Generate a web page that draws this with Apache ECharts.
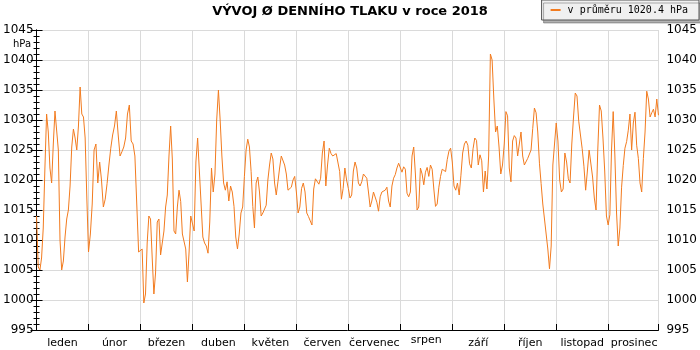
<!DOCTYPE html>
<html>
<head>
<meta charset="utf-8">
<script src="https://cdn.jsdelivr.net/npm/echarts@6/dist/echarts.min.js"></script>
<style>
  html, body { margin: 0; padding: 0; background: #fff; }
  #chart { width: 700px; height: 350px; }
</style>
</head>
<body>
<div id="chart"></div>
<script>
// Průměrný denní tlak vzduchu (hPa) v roce 2018, po měsících
const leden = [1014, 1005.5, 1005, 1007, 1012, 1022, 1031, 1028, 1022, 1019.5, 1026, 1031.5, 1031.5, 1025, 1010, 1005, 1006.5, 1010.5, 1013.5, 1015, 1019, 1025.5, 1028.5, 1027, 1025, 1029, 1035.5, 1031, 1030.5, 1027, 1017];
const unor = [1008, 1011, 1016, 1025, 1026, 1019.5, 1023, 1020, 1015.5, 1016.8, 1019.4, 1022.5, 1025.3, 1027.5, 1029, 1031.5, 1027.5, 1024, 1024.7, 1025.5, 1027, 1031, 1032.5, 1026.5, 1026, 1024, 1016, 1008];
const brezen = [1008, 1008.5, 999.5, 1001, 1009.5, 1014, 1013.5, 1007, 1001, 1004.5, 1013, 1013.5, 1007.5, 1007.5, 1011.5, 1015.5, 1017.5, 1024, 1029, 1023.5, 1011.5, 1011, 1015.5, 1018.3, 1016.4, 1011, 1010.8, 1008.5, 1003, 1008, 1014];
const duben = [1014, 1011.5, 1023, 1027, 1021.5, 1016, 1010.5, 1009.5, 1009, 1007.8, 1013, 1022, 1018, 1021, 1030, 1035, 1030, 1024, 1019.5, 1018.3, 1019.7, 1016.5, 1019, 1018, 1015.6, 1010.5, 1008.5, 1011, 1014.5, 1015.5];
const kveten = [1020.6, 1025, 1026.8, 1025.5, 1021.4, 1015.6, 1012, 1019.5, 1020.5, 1018, 1014, 1014.5, 1014.8, 1015.8, 1020, 1022.5, 1024.5, 1023.5, 1019.5, 1017.5, 1019.7, 1022, 1024, 1024.2, 1022.5, 1021, 1018.3, 1018.6, 1018.8, 1020, 1020.6];
const cerven = [1018, 1014.5, 1015.5, 1018.6, 1019.5, 1018, 1014.5, 1013.9, 1013.2, 1012.5, 1018.5, 1020.2, 1020, 1019.3, 1020.3, 1024.5, 1026.5, 1019, 1022.5, 1025.3, 1024.4, 1024, 1024.2, 1024.4, 1024.5, 1021.4, 1016.8, 1018.6, 1022, 1020];
const cervenec = [1018.6, 1017, 1017.5, 1021.5, 1023, 1022, 1019.5, 1019, 1019.7, 1021, 1020.7, 1020.3, 1018, 1015.5, 1016.5, 1018, 1018.2, 1016.3, 1014.8, 1017.2, 1018, 1017.9, 1018.3, 1018.8, 1016.5, 1015.5, 1019, 1020.3, 1020.9, 1022, 1022.8];
const srpen = [1022.8, 1021.3, 1022.2, 1021.8, 1017.8, 1017.2, 1018, 1024, 1025.5, 1021, 1015, 1015.5, 1022, 1021, 1019.2, 1021.3, 1022.1, 1020.6, 1022.5, 1021.8, 1018.5, 1015.6, 1016, 1018.8, 1020.6, 1021.8, 1021.5, 1021.4, 1023.4, 1024.8, 1025.3];
const zari = [1023, 1019, 1018.3, 1019.5, 1017.5, 1020.8, 1024.5, 1026, 1026.5, 1025.8, 1022.7, 1022, 1025.2, 1027, 1026.6, 1022.5, 1024.2, 1023.2, 1018, 1021.5, 1018.5, 1024, 1041, 1040, 1033.5, 1028, 1029, 1025.5, 1021, 1022.5];
const rijen = [1026, 1031.4, 1030.7, 1022, 1019.7, 1026.5, 1027.4, 1027, 1024, 1026, 1028, 1024, 1022.5, 1022.8, 1023.6, 1023.9, 1025, 1028.6, 1032, 1031.2, 1028, 1022.8, 1019.4, 1016, 1013.5, 1011, 1008.5, 1005.2, 1009, 1022.5, 1026];
const listopad = [1029.5, 1026.5, 1020, 1018, 1018.5, 1024.5, 1023, 1020.2, 1019.5, 1026, 1030.5, 1034.5, 1034, 1029.8, 1027.5, 1025.2, 1022.3, 1018.3, 1021.5, 1025, 1025, 1020.5, 1017, 1015, 1025, 1032.5, 1031.5, 1027, 1021.5, 1014];
const prosinec = [1012.5, 1014.2, 1025, 1031.4, 1024, 1014.5, 1009, 1012, 1018.8, 1022.4, 1025.3, 1026.4, 1028.3, 1031, 1025, 1029.5, 1031.3, 1025.8, 1023.6, 1019.5, 1018, 1023.6, 1028, 1034.8, 1033.5, 1030.5, 1031.2, 1031.8, 1030.5, 1033.5, 1030.8];

const months = [leden, unor, brezen, duben, kveten, cerven, cervenec, srpen, zari, rijen, listopad, prosinec];
const monthNames = ['leden', 'únor', 'březen', 'duben', 'květen', 'červen', 'červenec', 'srpen', 'září', 'říjen', 'listopad', 'prosinec'];
const yTicks = { min: 995, max: 1045, step: 5 };
const seriesName = 'v průměru 1020.4 hPa';

// Every month takes one unit on the x axis; day d sits at month + (d-1)/days
const points = [];
months.forEach((days, m) => {
  days.forEach((v, d) => points.push([m + d / days.length, v]));
});
const xMax = points[points.length - 1][0];

const LINE = '#f27b1f';
const GRID = '#dadada';
const FONT = 'DejaVu Sans';

const yAxisBase = {
  type: 'value',
  min: yTicks.min,
  max: yTicks.max,
  interval: yTicks.step,
  axisLine: { show: true, lineStyle: { color: '#000', width: 1 } },
  axisTick: { show: true, inside: true, length: 6, lineStyle: { color: '#000' } },
  minorTick: { show: true, splitNumber: 5, length: 3, lineStyle: { color: '#000' } },
  axisLabel: { color: '#000', fontFamily: FONT, fontSize: 12, formatter: (v) => String(v) }
};

const chart = echarts.init(document.getElementById('chart'), null, { renderer: 'canvas' });
chart.setOption({
  animation: false,
  backgroundColor: '#fff',
  title: {
    text: 'VÝVOJ Ø DENNÍHO TLAKU v roce 2018',
    left: 'center',
    top: 5,
    padding: 0,
    textStyle: { fontFamily: FONT, fontWeight: 'bold', fontSize: 13, color: '#000' }
  },
  legend: {
    right: 1,
    top: 0,
    padding: [5, 11, 5, 9],
    icon: 'rect',
    itemWidth: 10,
    itemHeight: 2,
    backgroundColor: '#f0f0f0',
    borderColor: '#555',
    borderWidth: 1,
    borderRadius: 0,
    shadowColor: 'rgba(0,0,0,0.3)',
    shadowBlur: 0,
    shadowOffsetX: 2,
    shadowOffsetY: 3,
    textStyle: { fontFamily: 'DejaVu Sans Mono', fontSize: 10, color: '#000', padding: [0, 0, 0, 2] },
    data: [seriesName]
  },
  grid: { left: 35, top: 30, width: 631, height: 300, containLabel: false },
  xAxis: [
    {
      type: 'value',
      position: 'bottom',
      min: 0,
      max: xMax,
      interval: 1,
      axisLine: { show: true, onZero: false, lineStyle: { color: '#000' } },
      axisTick: { show: true, inside: true, length: 6, lineStyle: { color: '#000' } },
      axisLabel: { show: false },
      splitLine: { show: true, lineStyle: { color: GRID, width: 1 } }
    },
    {
      type: 'value',
      position: 'bottom',
      min: 0,
      max: xMax,
      interval: 0.5,
      axisLine: { show: false },
      axisTick: { show: false },
      splitLine: { show: false },
      axisLabel: {
        show: true,
        margin: 5,
        fontFamily: FONT,
        fontSize: 11,
        color: '#000',
        formatter: (v) => {
          const m = Math.floor(v);
          if (Math.abs(v - m - 0.5) > 1e-6) return '';
          const name = monthNames[m];
          return name === 'srpen' ? '{up|' + name + '}' : '{n|' + name + '}';
        },
        rich: {
          n: { fontFamily: FONT, fontSize: 11, color: '#000', padding: [3, 0, 0, 0] },
          up: { fontFamily: FONT, fontSize: 11, color: '#000', padding: [0, 0, 3, 0] }
        }
      }
    }
  ],
  yAxis: [
    Object.assign({}, yAxisBase, {
      position: 'left',
      axisLabel: Object.assign({}, yAxisBase.axisLabel, { margin: 3 }),
      splitLine: { show: true, lineStyle: { color: GRID, width: 1 } }
    }),
    Object.assign({}, yAxisBase, {
      position: 'right',
      axisLabel: Object.assign({}, yAxisBase.axisLabel, { margin: 8 }),
      splitLine: { show: false }
    })
  ],
  graphic: [
    {
      type: 'text',
      left: 13,
      top: 39,
      style: { text: 'hPa', font: '10px "DejaVu Sans"', fill: '#000' }
    }
  ],
  series: [
    {
      name: seriesName,
      type: 'line',
      xAxisIndex: 0,
      yAxisIndex: 0,
      data: points,
      showSymbol: false,
      symbol: 'none',
      color: LINE,
      lineStyle: { color: LINE, width: 1 },
      emphasis: { disabled: true }
    }
  ]
});
</script>
</body>
</html>
